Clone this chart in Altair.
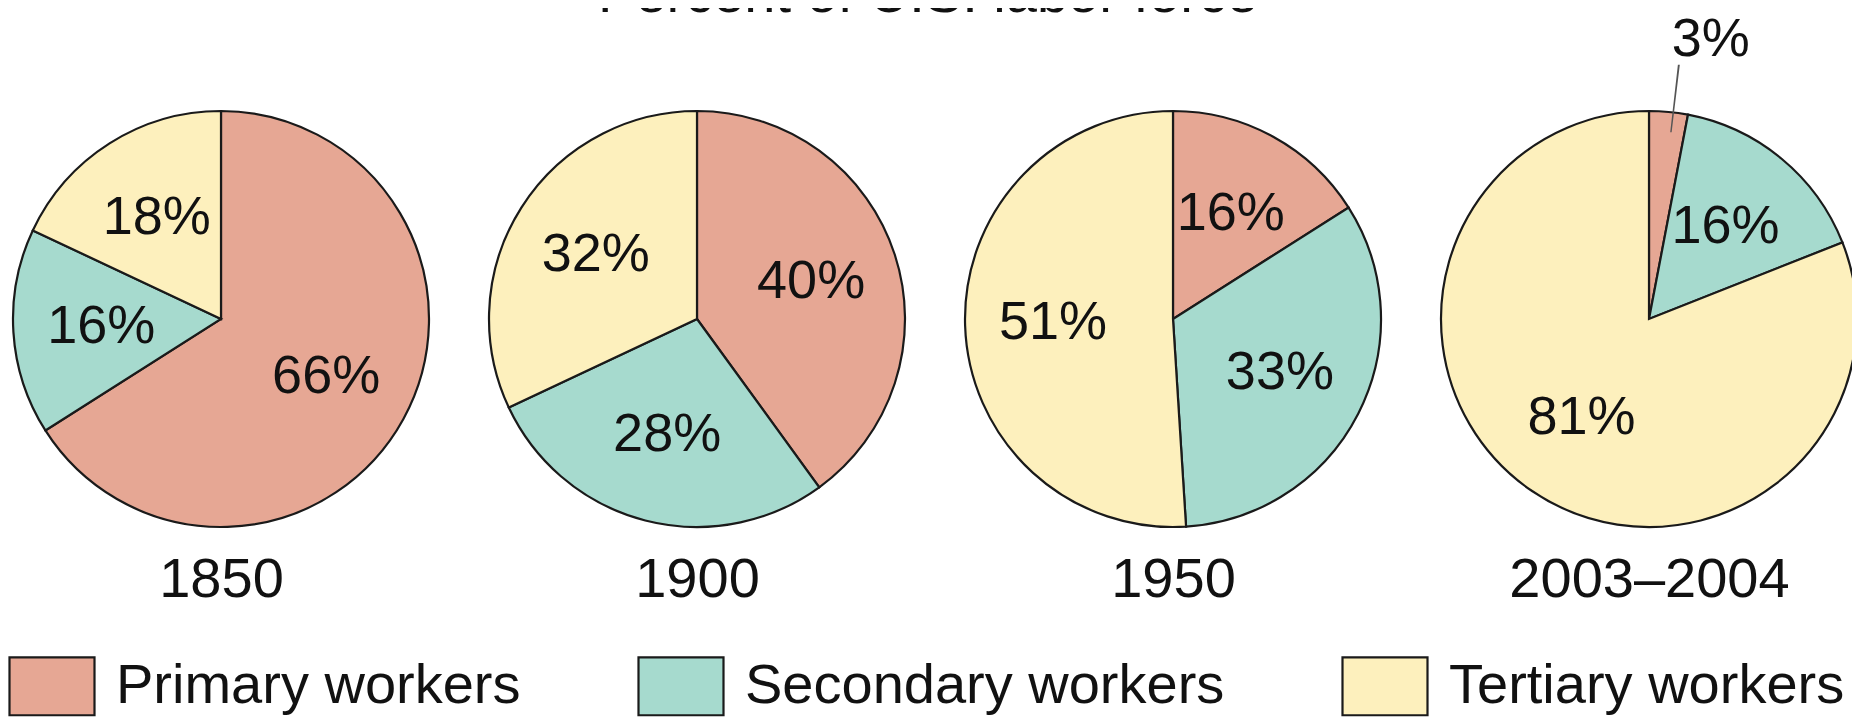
import altair as alt
import pandas as pd

# ---- data ----
years = ["1850", "1900", "1950", "2003–2004"]
sectors = ["Primary workers", "Secondary workers", "Tertiary workers"]
primary = [66, 40, 16, 3]
secondary = [16, 28, 33, 16]
tertiary = [18, 32, 51, 81]
title_text = ["Percent of U.S. labor force"]

colors = ["#E6A794", "#A6DACE", "#FDF0BD"]

rows = []
for i, yr in enumerate(years):
    for j, (s, vals) in enumerate(zip(sectors, [primary, secondary, tertiary])):
        rows.append({"year": yr, "sector": s, "order": j, "pct": vals[i]})
df = pd.DataFrame(rows)

FONT = "Liberation Sans"
TWO_PI = 6.283185307179586
CY = 311

x_enc = alt.X(
    "year:N",
    sort=years,
    scale=alt.Scale(type="point", range=[213, 1641], padding=0),
    axis=alt.Axis(
        title=None, domain=False, ticks=False, tickSize=0, grid=False,
        labelFontSize=56, labelFont=FONT, labelColor="#111",
        labelBaseline="middle", labelPadding=31, labelLimit=600, labelAngle=0,
    ),
)
theta_scale = alt.Scale(domain=[0, 100], range=[0, TWO_PI])

base = alt.Chart(df).transform_window(
    cum="sum(pct)", groupby=["year"], sort=[alt.SortField("order")], frame=[None, 0]
).transform_calculate(
    start="datum.cum - datum.pct",
    mid="datum.cum - datum.pct / 2",
    label="datum.pct + '%'",
)

pies = base.mark_arc(outerRadius=208, stroke="#1a1a1a", strokeWidth=2.2).encode(
    x=x_enc,
    y=alt.value(CY),
    theta=alt.Theta("start:Q", scale=theta_scale, stack=None),
    theta2="cum:Q",
    color=alt.Color(
        "sector:N",
        scale=alt.Scale(domain=sectors, range=colors),
        legend=alt.Legend(
            title=None, orient="none", legendX=0, legendY=634,
            direction="horizontal",
            symbolType="M-1,-0.68H1V0.68H-1Z", symbolSize=7225,
            symbolStrokeColor="#1a1a1a", symbolStrokeWidth=2.2, symbolOpacity=1,
            labelFontSize=56, labelFont=FONT, labelColor="#111",
            labelOffset=20, columnPadding=113, labelLimit=700,
            padding=0, rowPadding=0,
        ),
    ),
)

big_labels = base.transform_filter("datum.pct >= 5").mark_text(
    radius=120, fontSize=54, font=FONT, color="#111", align="center", baseline="middle"
).encode(
    x=x_enc,
    y=alt.value(CY),
    theta=alt.Theta("mid:Q", scale=theta_scale, stack=None),
    text="label:N",
)

small_labels = base.transform_filter("datum.pct < 5").mark_text(
    radius=285, dx=35, dy=5, fontSize=54, font=FONT, color="#111",
    align="center", baseline="middle"
).encode(
    x=x_enc,
    y=alt.value(CY),
    theta=alt.Theta("mid:Q", scale=theta_scale, stack=None),
    text="label:N",
)

leader = base.transform_filter("datum.pct < 5").transform_calculate(
    l1="datum.mid + 0.3", l2="datum.mid + 0.42"
).mark_arc(radius=256, radius2=188, color="#555").encode(
    x=x_enc,
    y=alt.value(CY),
    theta=alt.Theta("l1:Q", scale=theta_scale, stack=None),
    theta2="l2:Q",
)

title = alt.Chart(pd.DataFrame({"t": title_text})).mark_text(
    fontSize=56, font=FONT, color="#111", align="center", baseline="alphabetic"
).encode(x=alt.value(920), y=alt.value(4), text="t:N")

chart = alt.layer(pies, leader, big_labels, small_labels, title).properties(
    width=1844,
    height=540,
    autosize="none",
    padding={"left": 0, "right": 0, "top": 0, "bottom": 172},
    background="white",
).configure_view(stroke=None)

chart.save("out.html", embed_options={"renderer": "svg", "actions": False})
